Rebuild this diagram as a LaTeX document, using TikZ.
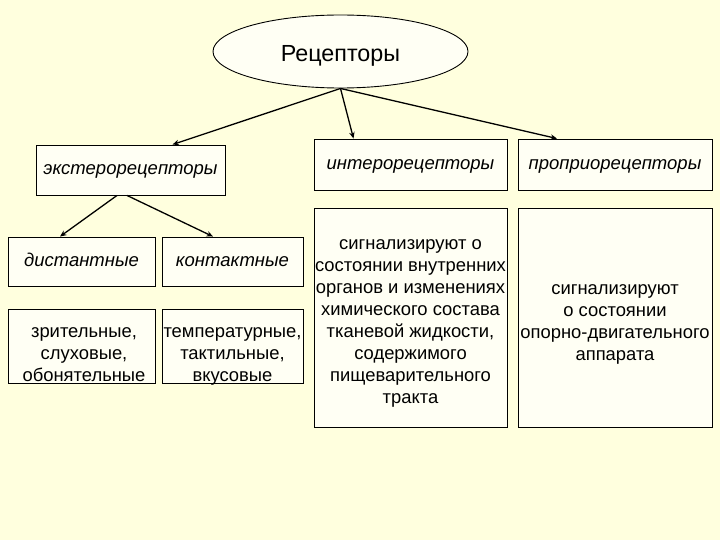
\documentclass[tikz,border=0pt]{standalone}
\usepackage{fontspec}
\setmainfont{Liberation Sans}
\usetikzlibrary{shapes.geometric,arrows.meta}
\definecolor{bgcol}{HTML}{FFFFDE}
\definecolor{boxcol}{HTML}{FFFFF4}
\begin{document}
\begin{tikzpicture}[x=1pt,y=-1pt,
 box/.style={draw=black,line width=0.9pt,fill=boxcol,inner sep=0pt},
 lab/.style={font=\fontsize{18.5}{22}\selectfont\itshape,text height=9.5pt,text depth=0pt},
 body/.style={align=center,font=\fontsize{18.4}{22}\selectfont,inner sep=0pt},
 arr/.style={-{Stealth[length=6.5pt,width=5.5pt]},line width=1.3pt}]
\fill[bgcol] (0,0) rectangle (720,540);
\useasboundingbox (0,0) rectangle (720,540);

\node[draw,ellipse,fill=boxcol,line width=0.9pt,minimum width=255pt,minimum height=73pt,inner sep=0pt,font=\fontsize{23.3}{27}\selectfont,text height=20.4pt,text depth=0pt] (root) at (340.5,51.5) {Рецепторы};

\node[box,lab,minimum width=189pt,minimum height=50pt] (ext) at (130.5,170) {экстерорецепторы};
\node[box,lab,minimum width=193pt,minimum height=51pt] (intero) at (410.5,164.5) {интерорецепторы};
\node[box,lab,minimum width=194pt,minimum height=51pt] (proprio) at (615,164.5) {проприорецепторы};

\node[box,minimum width=193pt,minimum height=219pt] (introdesc) at (410.5,317.5) {};
\node[box,minimum width=194pt,minimum height=219pt] (propdesc) at (615,317.5) {};
\node[body] (introtext) at (410.5,323) {сигнализируют о\\состоянии внутренних\\органов и изменениях\\химического состава\\тканевой жидкости,\\содержимого\\пищеварительного\\тракта};
\node[body] (proptext) at (615,324) {сигнализируют\\о состоянии\\опорно-двигательного\\аппарата};

\node[box,lab,minimum width=147pt,minimum height=49pt] (dist) at (81.5,261.5) {дистантные};
\node[box,lab,minimum width=141pt,minimum height=49pt] (cont) at (232.5,261.5) {контактные};

\node[box,minimum width=147pt,minimum height=74pt] (vis) at (81.5,346) {};
\node[box,minimum width=141pt,minimum height=74pt] (temp) at (232.5,346) {};
\node[body] (vistext) at (84,354.5) {зрительные,\\слуховые,\\обонятельные};
\node[body] (temptext) at (232.5,356.5) {температурные,\\тактильные,\\вкусовые};

\draw[arr] (root.south) -- ([xshift=42pt]ext.north);
\draw[arr] (root.south) -- ([xshift=-57pt]intero.north);
\draw[arr] (root.south) -- ([xshift=-58pt]proprio.north);
\draw[arr] ([xshift=-13.5pt]ext.south) -- ([xshift=-21.5pt]dist.north);
\draw[arr] ([xshift=-3.5pt]ext.south) -- ([xshift=-19.5pt]cont.north);
\end{tikzpicture}
\end{document}
